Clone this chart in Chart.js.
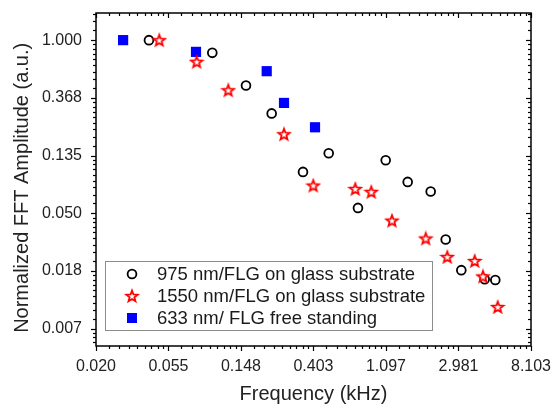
<!DOCTYPE html>
<html>
<head>
<meta charset="utf-8">
<script src="https://cdn.jsdelivr.net/npm/chart.js@4.4.1/dist/chart.umd.min.js"></script>
<style>
  html, body { margin: 0; padding: 0; background: #fff; }
</style>
</head>
<body>
<canvas id="fftChart" width="552" height="410"></canvas>
<script>
// values: frequency in kHz, amplitude normalized
const freq975 = [0.0417, 0.0999, 0.159, 0.2266, 0.349, 0.4976, 0.745, 1.092, 1.479, 2.031, 2.498, 3.099, 4.278, 4.952];
const amp975 = [1.0, 0.802, 0.456, 0.281, 0.102, 0.141, 0.0547, 0.125, 0.0858, 0.0727, 0.0316, 0.0186, 0.0159, 0.0157];

const freq1550 = [0.0481, 0.0805, 0.1246, 0.2686, 0.4023, 0.718, 0.895, 1.191, 1.896, 2.554, 3.727, 4.179, 5.119];
const amp1550 = [1.0, 0.687, 0.420, 0.196, 0.0806, 0.076, 0.0722, 0.0439, 0.0322, 0.0234, 0.0218, 0.0167, 0.00983];

const freq633 = [0.0292, 0.0798, 0.2116, 0.2686, 0.412];
const amp633 = [1.0, 0.816, 0.584, 0.337, 0.221];

const seriesNames = ['975 nm/FLG on glass substrate', '1550 nm/FLG on glass substrate', '633 nm/ FLG free standing'];

// axes are log base e, ticks one e-fold apart
const xTickValues = [0.02009, 0.05460, 0.14841, 0.40343, 1.09663, 2.98093, 8.103];
const xTickLabels = ['0.020', '0.055', '0.148', '0.403', '1.097', '2.981', '8.103'];
const yTickValues = [1.0, 0.36788, 0.13534, 0.04979, 0.01832, 0.00674];
const yTickLabels = ['1.000', '0.368', '0.135', '0.050', '0.018', '0.007'];

const toPoints = (xs, ys) => xs.map((x, i) => ({ x: x, y: ys[i] }));

// open red star marker (chart.js 'star' is an asterisk)
function makeStar(color) {
    const c = document.createElement('canvas');
    c.width = 16; c.height = 16;
    const g = c.getContext('2d');
    g.beginPath();
    for (let i = 0; i < 10; i++) {
        const r = i % 2 === 0 ? 5.9 : 2.5;
        const a = -Math.PI / 2 + i * Math.PI / 5;
        const px = 8 + r * Math.cos(a), py = 8.5 + r * Math.sin(a);
        if (i === 0) g.moveTo(px, py); else g.lineTo(px, py);
    }
    g.closePath();
    g.fillStyle = '#fff';
    g.fill();
    g.lineWidth = 1.8;
    g.strokeStyle = color;
    g.stroke();
    return c;
}
const starImg = makeStar('#ff0000');

// minor ticks: 8 linear steps inside each e-fold
function minorTicks(majors, lo, hi) {
    const s = [...majors].sort((a, b) => a - b);
    const all = [s[0] / Math.E, ...s, s[s.length - 1] * Math.E];
    const out = [];
    for (let i = 0; i < all.length - 1; i++) {
        for (let k = 1; k <= 8; k++) {
            const v = all[i] + k * (all[i + 1] - all[i]) / 9;
            if (v > lo && v < hi) out.push(v);
        }
    }
    return out;
}

const frameTicks = {
    id: 'frameTicks',
    afterDraw(chart) {
        const ctx = chart.ctx;
        const { left, right, top, bottom } = chart.chartArea;
        const xs = chart.scales.x, ys = chart.scales.y;
        ctx.save();
        ctx.strokeStyle = '#000';
        ctx.lineWidth = 1.2;
        const line = (x1, y1, x2, y2) => { ctx.beginPath(); ctx.moveTo(x1, y1); ctx.lineTo(x2, y2); ctx.stroke(); };

        const xMinor = minorTicks(xTickValues, xs.min, xs.max);
        xTickValues.forEach(v => {
            const p = Math.round(xs.getPixelForValue(v)) + 0.5;
            line(p, bottom, p, bottom + 5);
            line(p, top, p, top + 5);
        });
        xMinor.forEach(v => {
            const p = Math.round(xs.getPixelForValue(v)) + 0.5;
            line(p, bottom, p, bottom + 3);
            line(p, top, p, top + 3);
        });

        const yMinor = minorTicks(yTickValues, ys.min, ys.max);
        yTickValues.forEach(v => {
            const p = Math.round(ys.getPixelForValue(v)) + 0.5;
            line(left - 5, p, left, p);
            line(right - 5, p, right, p);
        });
        yMinor.forEach(v => {
            const p = Math.round(ys.getPixelForValue(v)) + 0.5;
            line(left - 3, p, left, p);
            line(right - 3, p, right, p);
        });

        ctx.lineWidth = 1.5;
        ctx.strokeRect(left, top, right - left, bottom - top);

        // legend box, lower left inside the plot
        const lx = 105.5, ly = 261.5, lw = 327, lh = 69;
        ctx.lineWidth = 1;
        ctx.strokeStyle = '#8c8c8c';
        ctx.fillStyle = '#fff';
        ctx.fillRect(lx, ly, lw, lh);
        ctx.strokeRect(lx, ly, lw, lh);

        const mx = 132, rows = [274, 296, 318];
        ctx.strokeStyle = '#000';
        ctx.lineWidth = 1.8;
        ctx.beginPath();
        ctx.arc(mx, rows[0], 4.4, 0, Math.PI * 2);
        ctx.stroke();
        ctx.drawImage(starImg, mx - 8, rows[1] - 8);
        ctx.fillStyle = '#0000ff';
        ctx.fillRect(mx - 5, rows[2] - 5, 10, 10);

        ctx.fillStyle = '#1a1a1a';
        ctx.font = '18.5px "Liberation Sans", Arial, sans-serif';
        ctx.textBaseline = 'middle';
        ctx.textAlign = 'left';
        seriesNames.forEach((name, i) => ctx.fillText(name, 157, rows[i] + 1));
        ctx.restore();
    }
};

const tickFont = { family: '"Liberation Sans", Arial, sans-serif', size: 16 };
const titleFont = { family: '"Liberation Sans", Arial, sans-serif', size: 20 };

new Chart(document.getElementById('fftChart'), {
    type: 'scatter',
    data: {
        datasets: [
            {
                label: seriesNames[0],
                data: toPoints(freq975, amp975),
                pointStyle: 'circle',
                pointRadius: 4.4,
                pointBorderWidth: 1.8,
                borderColor: '#000',
                backgroundColor: 'rgba(0,0,0,0)',
                order: 2
            },
            {
                label: seriesNames[1],
                data: toPoints(freq1550, amp1550),
                pointStyle: starImg,
                order: 1
            },
            {
                label: seriesNames[2],
                data: toPoints(freq633, amp633),
                pointStyle: 'rect',
                pointRadius: 7.2,
                pointBorderWidth: 0,
                backgroundColor: '#0000ff',
                borderColor: '#0000ff',
                order: 3
            }
        ]
    },
    options: {
        responsive: false,
        animation: false,
        layout: { padding: { left: 0, right: 21, top: 13, bottom: 0 } },
        plugins: {
            legend: { display: false },
            tooltip: { enabled: false }
        },
        scales: {
            x: {
                type: 'logarithmic',
                bounds: 'data',
                min: xTickValues[0],
                max: xTickValues[xTickValues.length - 1],
                grid: { display: false, drawTicks: false },
                border: { display: false },
                afterBuildTicks: s => { s.ticks = xTickValues.map(v => ({ value: v })); },
                afterFit: s => { s.height = 64; s.paddingLeft = 0; s.paddingRight = 0; },
                ticks: {
                    autoSkip: false,
                    maxRotation: 0,
                    padding: 11,
                    color: '#222',
                    font: tickFont,
                    callback: (v, i) => xTickLabels[i]
                },
                title: {
                    display: true,
                    text: 'Frequency (kHz)',
                    color: '#222',
                    font: titleFont,
                    padding: { top: 0, bottom: 4 }
                }
            },
            y: {
                type: 'logarithmic',
                bounds: 'data',
                min: 0.005,
                max: 1.6,
                grid: { display: false, drawTicks: false },
                border: { display: false },
                afterBuildTicks: s => { s.ticks = yTickValues.map(v => ({ value: v })); },
                afterFit: s => { s.width = 96; s.paddingTop = 0; s.paddingBottom = 0; },
                ticks: {
                    autoSkip: false,
                    padding: 14,
                    color: '#222',
                    font: tickFont,
                    callback: (v, i) => yTickLabels[i]
                },
                title: {
                    display: true,
                    // trailing spaces nudge the centred title down like the original
                    text: 'Normalized FFT Amplitude (a.u.)   ',
                    color: '#222',
                    font: titleFont,
                    padding: { top: 10, bottom: 0 }
                }
            }
        }
    },
    plugins: [frameTicks]
});
</script>
</body>
</html>
